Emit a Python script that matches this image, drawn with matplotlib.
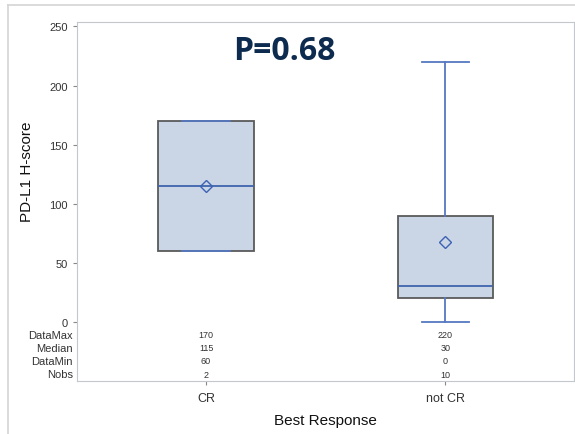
import matplotlib.pyplot as plt
from matplotlib.lines import Line2D

plt.rcParams['font.family'] = ['Liberation Sans', 'DejaVu Sans']

# Summary statistics for each response group
groups = ['CR', 'not CR']
data_max = [170, 220]
q3 = [170, 90]
medians = [115, 30]
q1 = [60, 20]
data_min = [60, 0]
means = [115, 68]
nobs = [2, 10]

yticks = [0, 50, 100, 150, 200, 250]

stats = []
for i, g in enumerate(groups):
    stats.append({'label': g, 'whislo': data_min[i], 'q1': q1[i], 'med': medians[i],
                  'q3': q3[i], 'whishi': data_max[i], 'mean': means[i], 'fliers': []})

fig = plt.figure(figsize=(5.75, 4.35), dpi=100)
ax = fig.add_axes([77 / 575, 1 - 382 / 435, 497 / 575, (382 - 22.7) / 435])

blue = '#5578c0'
ax.bxp(stats, positions=[1, 2], widths=0.40, showmeans=True, showfliers=False, patch_artist=True,
       boxprops=dict(facecolor='#cad5e6', edgecolor='#5a5a5a', linewidth=1.3),
       whiskerprops=dict(color=blue, linewidth=1.3),
       capprops=dict(color=blue, linewidth=1.3),
       medianprops=dict(color='#3f63ad', linewidth=1.3),
       meanprops=dict(marker='D', markerfacecolor='none', markeredgecolor='#3d62b4',
                      markersize=6, markeredgewidth=1.0),
       capwidths=0.2)

ax.set_xlim(0.461, 2.537)
ax.set_ylim(-50, 254)
ax.set_yticks(yticks)
ax.set_xticks([1, 2])
ax.set_xticklabels(groups)
ax.tick_params(axis='both', colors='#888888', labelcolor='#333333', labelsize=8, length=3)
ax.tick_params(axis='x', labelsize=9, pad=5)
for s in ax.spines.values():
    s.set_color('#c4c8cc')

# Statistics table inside the plot area
rows = [('DataMax', data_max, -11), ('Median', medians, -22),
        ('DataMin', data_min, -33), ('Nobs', nobs, -44.5)]
for name, vals, yy in rows:
    ax.text(-0.008, yy, name, transform=ax.get_yaxis_transform(), ha='right', va='center',
            fontsize=8, color='#333333')
    for x, v in zip([1, 2], vals):
        ax.text(x, yy, str(v), ha='center', va='center', fontsize=6.5, color='#333333')

ax.set_ylabel('PD-L1 H-score', fontsize=11, color='#111111')
ax.yaxis.set_label_coords(-0.087, 0.584)
ax.set_xlabel('Best Response', fontsize=11, color='#111111')
ax.xaxis.set_label_coords(0.5, -0.089)

fig.text(284 / 575, 1 - 51 / 435, 'P=0.68', ha='center', va='center', fontsize=23,
         fontweight='bold', family='Open Sans', color='#0d2b4e')

# light frame around the figure
fig.add_artist(Line2D([8 / 575, 8 / 575], [0, 1 - 6 / 435], color='#d4d4d4', lw=1.2))
fig.add_artist(Line2D([8 / 575, 1], [1 - 6 / 435, 1 - 6 / 435], color='#d4d4d4', lw=1.2))

fig.savefig('out.png', dpi=100)
